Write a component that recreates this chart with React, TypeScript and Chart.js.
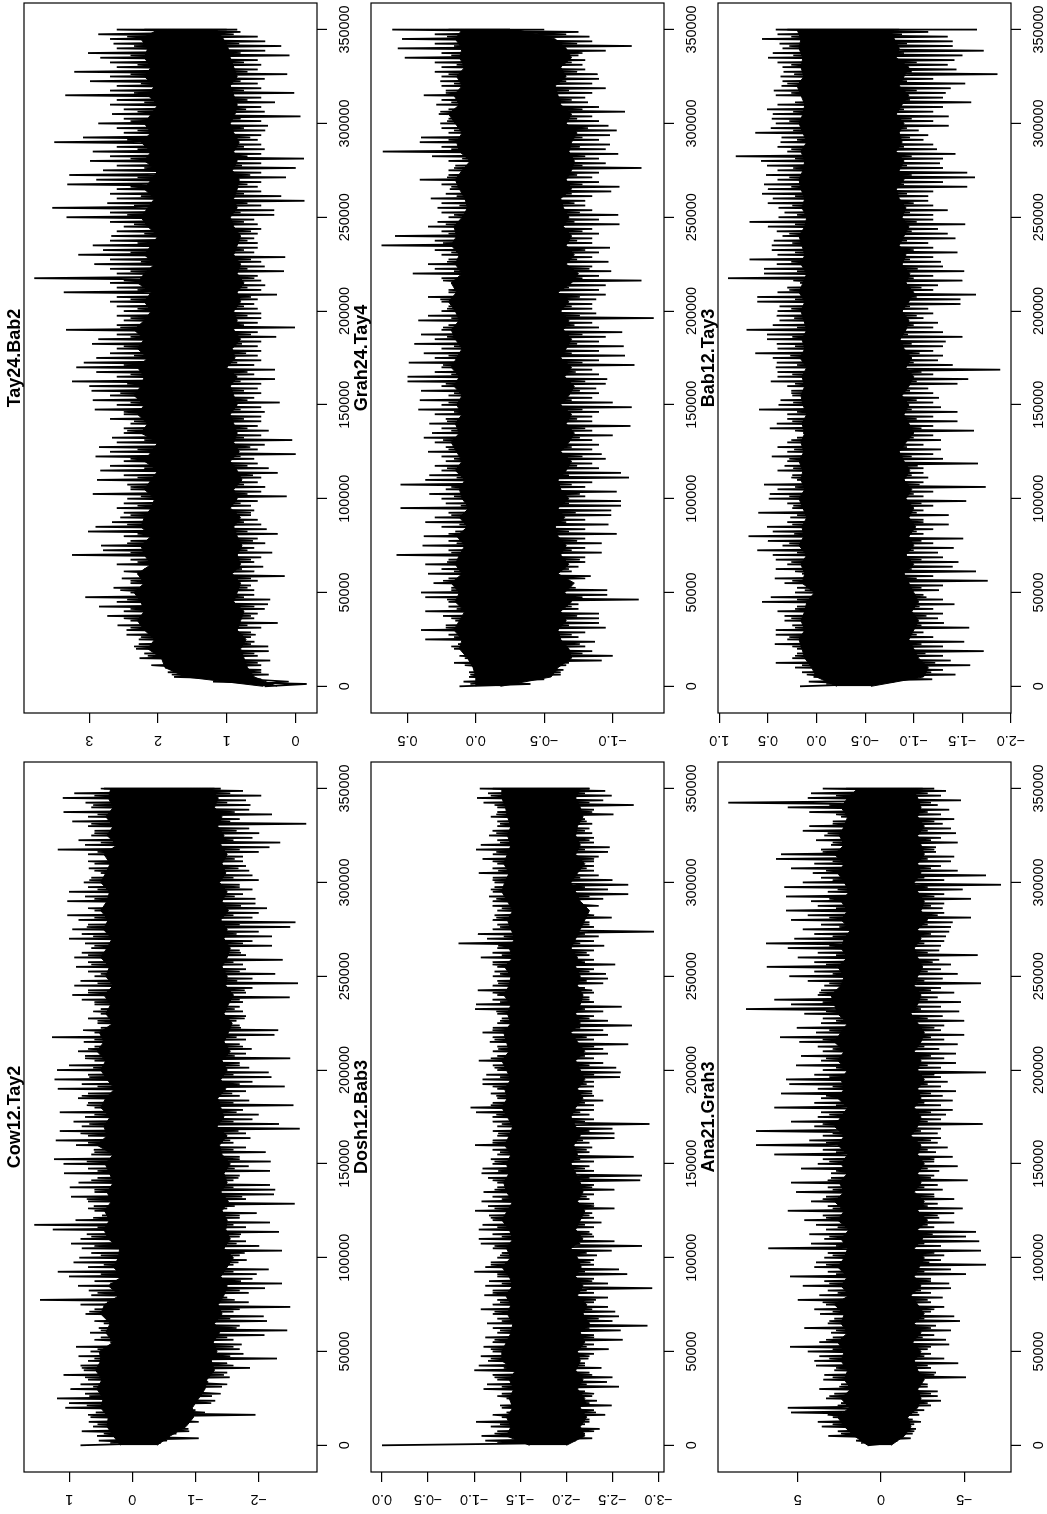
import React, { useEffect, useRef } from "react";
import { Chart, registerables } from "chart.js";

Chart.register(...registerables);

// Trace extremes, one pair per 2500 positions (0 .. 350000).
const sampleStep = 2500;
// Edge of the solid black band and the shorter teeth beyond it, one pair per 5000 positions.
const coreStep = 5000;
const xTicks = [0, 50000, 100000, 150000, 200000, 250000, 300000, 350000];

const cowUpper = [
  .82,.53,.56,.80,.62,.69,.66,.58,1.06,1.00,
  1.19,.75,.98,.82,.70,1.09,.77,.82,.70,.85,
  .66,.89,.35,.5,.67,.53,.45,.40,.74,.60,
  .82,1.46,.65,.69,.86,.6,1.0,1.18,.7,.93,
  .84,.65,.8,.97,.82,.72,1.26,1.55,.9,.48,
  .6,.61,.7,.97,.6,.99,.85,.55,1.08,.7,
  1.09,1.24,.65,.61,.89,1.21,.7,1.15,.8,.93,
  .75,1.15,.6,.7,.86,.7,1.18,.8,1.23,.7,
  1.19,1.0,.6,.75,.86,.6,.77,1.27,.6,.5,
  .55,.7,.5,.5,.6,.8,.95,.7,.92,.82,
  .6,.7,.89,.7,.92,.8,.65,.75,1.0,.8,
  .95,.7,.85,1.03,.6,.35,1.03,.75,1.0,.7,
  .77,.65,.5,.69,.6,.4,.7,1.18,.75,.85,
  .65,.6,.7,.95,.7,1.09,.65,.74,1.1,.92,
  .45];
const cowLower = [
  -.45,-1.05,-.7,-.89,-.85,-.9,-1.95,-1.0,-.95,-1.31,
  -1.26,-1.1,-1.42,-1.2,-1.54,-1.5,-1.86,-1.5,-2.29,-1.76,
  -1.7,-1.73,-1.6,-2.09,-2.45,-1.7,-2.13,-2.08,-1.6,-2.5,
  -1.84,-1.5,-1.84,-2.1,-2.37,-1.9,-1.97,-2.16,-1.6,-1.81,
  -1.7,-2.37,-2.01,-1.8,-1.7,-2.32,-1.8,-2.18,-1.7,-1.97,
  -1.5,-2.57,-1.8,-2.24,-2.26,-2.18,-1.6,-1.7,-2.18,-1.84,
  -2.19,-1.7,-2.11,-1.8,-1.6,-1.87,-1.8,-2.65,-2.32,-1.9,
  -2.0,-1.75,-2.55,-1.85,-1.7,-1.8,-2.41,-1.9,-2.2,-2.16,
  -1.85,-1.7,-2.5,-1.8,-1.89,-1.7,-1.8,-2.25,-2.31,-1.7,
  -1.65,-1.8,-1.75,-1.7,-1.75,-2.49,-1.8,-1.9,-2.62,-1.9,
  -2.26,-1.8,-1.75,-2.38,-1.8,-1.7,-2.21,-1.9,-2.21,-2.0,
  -2.5,-2.58,-1.9,-2.0,-2.13,-1.95,-1.95,-1.75,-1.9,-1.7,
  -2.0,-1.9,-1.85,-1.8,-1.75,-1.75,-2.0,-2.17,-2.34,-1.9,
  -2.01,-1.85,-2.75,-1.7,-2.21,-1.85,-1.87,-1.8,-2.04,-1.75,
  -1.4];
const cowCoreUpper = [
  .19,.3,.4,.38,.5,.46,.56,.48,.58,.5,
  .52,.3,.42,.35,.5,.44,.2,.38,.16,.3,
  .22,.2,.38,.45,.36,.44,.33,.4,.3,.36,
  .43,.3,.56,.4,.45,.35,.5,.42,.28,.4,
  .5,.42,.56,.45,.52,.3,.42,.34,.45,.3,
  .42,.36,.5,.4,.32,.46,.38,.5,.4,.36,
  .5,.42,.35,.45,.24,.4,.3,.42,.3,.38,
  .34];
const cowCoreLower = [
  -.39,-.6,-.85,-.97,-.95,-1.05,-1.15,-1.18,-1.3,-1.25,
  -1.34,-1.28,-1.38,-1.3,-1.42,-1.36,-1.45,-1.5,-1.4,-1.5,
  -1.6,-1.45,-1.55,-1.48,-1.5,-1.42,-1.52,-1.4,-1.5,-1.45,
  -1.55,-1.42,-1.38,-1.5,-1.34,-1.45,-1.4,-1.35,-1.48,-1.4,
  -1.5,-1.42,-1.55,-1.45,-1.52,-1.58,-1.45,-1.52,-1.6,-1.48,
  -1.5,-1.42,-1.5,-1.55,-1.45,-1.5,-1.4,-1.52,-1.42,-1.5,
  -1.38,-1.48,-1.42,-1.5,-1.4,-1.45,-1.35,-1.42,-1.3,-1.36,
  -1.25];
const cowMidUpper = [
  .35,.45,.55,.7,.72,.68,.62,.75,.8,.6,
  .55,.6,.5,.6,.68,.4,.55,.35,.5,.45,
  .5,.6,.65,.55,.62,.7,.72,.6,.65,.55,
  .72,.6,.7,.82,.68,.6,.72,.8,.55,.68,
  .62,.75,.7,.6,.78,.55,.62,.6,.7,.55,
  .5,.65,.7,.6,.62,.72,.6,.7,.6,.55,
  .68,.6,.7,.55,.5,.6,.65,.55,.62,.6,.5];
const cowMidLower = [
  -.55,-.9,-1.05,-1.15,-1.25,-1.4,-1.5,-1.45,-1.6,-1.55,
  -1.6,-1.5,-1.65,-1.55,-1.7,-1.62,-1.7,-1.72,-1.6,-1.68,
  -1.78,-1.65,-1.72,-1.6,-1.7,-1.62,-1.74,-1.6,-1.68,-1.62,
  -1.7,-1.6,-1.55,-1.68,-1.6,-1.65,-1.6,-1.58,-1.7,-1.6,
  -1.7,-1.62,-1.75,-1.65,-1.72,-1.78,-1.62,-1.7,-1.78,-1.66,
  -1.7,-1.6,-1.72,-1.75,-1.65,-1.7,-1.6,-1.72,-1.62,-1.7,
  -1.6,-1.68,-1.62,-1.7,-1.6,-1.65,-1.55,-1.62,-1.5,-1.55,-1.3];
const cowYTicks = [-2, -1, 0, 1];

const doshUpper = [
  0,-1.12,-1.08,-1.25,-1.18,-1.02,-1.3,-1.35,-1.3,-1.4,
  -1.35,-1.3,-1.1,-1.14,-1.25,-1.2,-1.0,-1.05,-1.15,-1.07,
  -1.2,-1.1,-1.2,-1.12,-1.25,-1.2,-1.14,-1.25,-1.2,-1.07,
  -1.2,-1.25,-1.11,-1.2,-1.12,-1.16,-1.25,-1.0,-1.12,-1.18,
  -1.25,-1.3,-1.2,-1.07,-1.05,-1.2,-1.05,-1.09,-1.2,-1.16,
  -1.01,-1.15,-1.08,-1.2,-1.1,-1.25,-1.25,-1.15,-1.08,-1.09,
  -1.2,-1.18,-1.25,-1.2,-1.01,-1.2,-1.25,-1.2,-1.25,-1.2,
  -1.2,-1.02,-.96,-1.2,-1.25,-1.18,-1.25,-1.09,-1.09,-1.13,
  -1.25,-1.2,-1.05,-1.25,-1.2,-1.25,-1.17,-1.2,-1.09,-1.2,
  -1.25,-1.3,-1.25,-1.01,-1.02,-1.2,-1.25,-1.04,-1.2,-1.25,
  -1.2,-1.22,-1.25,-1.2,-1.07,-1.2,-1.25,-.83,-1.14,-1.04,
  -1.2,-1.25,-1.2,-1.22,-1.25,-1.2,-1.2,-1.16,-1.2,-1.22,
  -1.22,-1.2,-1.05,-1.2,-1.25,-1.09,-1.2,-1.02,-1.07,-1.25,
  -1.16,-1.2,-1.25,-1.25,-1.18,-1.25,-1.25,-1.1,-1.03,-1.15,
  -1.06];
const doshLower = [
  -2.0,-2.28,-2.2,-2.36,-2.2,-2.25,-2.42,-2.3,-2.49,-2.33,
  -2.28,-2.2,-2.57,-2.44,-2.5,-2.25,-2.38,-2.2,-2.24,-2.3,
  -2.46,-2.3,-2.61,-2.3,-2.59,-2.88,-2.5,-2.57,-2.53,-2.45,
  -2.3,-2.45,-2.3,-2.93,-2.45,-2.3,-2.66,-2.57,-2.3,-2.3,
  -2.33,-2.49,-2.82,-2.52,-2.3,-2.25,-2.3,-2.38,-2.3,-2.28,
  -2.52,-2.3,-2.25,-2.3,-2.52,-2.3,-2.8,-2.82,-2.3,-2.25,
  -2.3,-2.73,-2.25,-2.28,-2.25,-2.52,-2.52,-2.5,-2.9,-2.3,
  -2.25,-2.3,-2.3,-2.4,-2.3,-2.28,-2.3,-2.3,-2.58,-2.59,
  -2.54,-2.4,-2.3,-2.45,-2.4,-2.67,-2.3,-2.45,-2.4,-2.71,
  -2.45,-2.3,-2.4,-2.6,-2.3,-2.25,-2.3,-2.2,-2.4,-2.45,
  -2.43,-2.3,-2.53,-2.3,-2.25,-2.3,-2.41,-2.3,-2.35,-2.95,
  -2.3,-2.25,-2.49,-2.1,-2.15,-2.1,-2.4,-2.67,-2.45,-2.67,
  -2.5,-2.35,-2.3,-2.3,-2.3,-2.35,-2.45,-2.47,-2.3,-2.3,
  -2.28,-2.25,-2.28,-2.2,-2.51,-2.3,-2.73,-2.4,-2.49,-2.42,
  -2.25];
const doshCoreUpper = [
  -1.6,-1.35,-1.4,-1.35,-1.42,-1.38,-1.43,-1.38,-1.45,-1.3,
  -1.3,-1.35,-1.4,-1.42,-1.36,-1.4,-1.34,-1.42,-1.38,-1.3,
  -1.4,-1.35,-1.42,-1.38,-1.3,-1.36,-1.42,-1.35,-1.32,-1.38,
  -1.35,-1.4,-1.33,-1.38,-1.42,-1.36,-1.3,-1.36,-1.33,-1.4,
  -1.35,-1.3,-1.38,-1.35,-1.32,-1.4,-1.36,-1.4,-1.32,-1.38,
  -1.4,-1.33,-1.42,-1.38,-1.44,-1.4,-1.36,-1.42,-1.36,-1.3,
  -1.33,-1.38,-1.32,-1.36,-1.4,-1.36,-1.4,-1.36,-1.34,-1.3,
  -1.3];
const doshCoreLower = [
  -2.0,-2.2,-2.15,-2.22,-2.15,-2.2,-2.12,-2.18,-2.1,-2.15,
  -2.12,-2.2,-2.15,-2.25,-2.18,-2.22,-2.12,-2.18,-2.1,-2.16,
  -2.12,-2.05,-2.18,-2.1,-2.15,-2.2,-2.12,-2.18,-2.15,-2.1,
  -2.05,-2.12,-2.08,-2.15,-2.1,-2.05,-2.1,-2.18,-2.12,-2.2,
  -2.15,-2.1,-2.2,-2.12,-2.05,-2.15,-2.1,-2.15,-2.18,-2.12,
  -2.15,-2.1,-2.12,-2.05,-2.1,-2.15,-2.2,-2.25,-2.15,-2.1,
  -2.05,-2.12,-2.2,-2.1,-2.15,-2.1,-2.12,-2.18,-2.15,-2.1,
  -2.15];
const doshMidUpper = [
  -1.25,-1.22,-1.28,-1.2,-1.28,-1.25,-1.3,-1.22,-1.32,-1.18,
  -1.18,-1.22,-1.28,-1.3,-1.22,-1.28,-1.2,-1.3,-1.25,-1.18,
  -1.28,-1.22,-1.3,-1.25,-1.18,-1.22,-1.3,-1.22,-1.2,-1.26,
  -1.22,-1.28,-1.2,-1.26,-1.3,-1.24,-1.18,-1.24,-1.2,-1.28,
  -1.22,-1.18,-1.26,-1.22,-1.2,-1.28,-1.24,-1.28,-1.2,-1.26,
  -1.28,-1.2,-1.3,-1.26,-1.32,-1.28,-1.24,-1.3,-1.24,-1.18,
  -1.2,-1.26,-1.2,-1.24,-1.28,-1.24,-1.28,-1.24,-1.22,-1.18,-1.2];
const doshMidLower = [
  -2.1,-2.3,-2.25,-2.32,-2.25,-2.3,-2.22,-2.28,-2.2,-2.25,
  -2.22,-2.3,-2.25,-2.35,-2.28,-2.32,-2.22,-2.28,-2.2,-2.26,
  -2.22,-2.15,-2.28,-2.2,-2.25,-2.3,-2.22,-2.28,-2.25,-2.2,
  -2.15,-2.22,-2.18,-2.25,-2.2,-2.15,-2.2,-2.28,-2.22,-2.3,
  -2.25,-2.2,-2.3,-2.22,-2.15,-2.25,-2.2,-2.25,-2.28,-2.22,
  -2.25,-2.2,-2.22,-2.15,-2.2,-2.25,-2.3,-2.35,-2.25,-2.2,
  -2.15,-2.22,-2.3,-2.2,-2.25,-2.2,-2.22,-2.28,-2.25,-2.2,-2.25];
const doshYTicks = [-3, -2.5, -2, -1.5, -1, -0.5, 0];

const anaUpper = [
  .8,1.5,3.16,2.6,3.56,3.8,2.9,5.4,5.6,2.4,
  3.3,2.8,3.7,2.4,3.46,3.4,2.8,3.9,4.0,3.7,
  4.4,5.46,3.7,2.9,3.0,4.6,3.2,2.8,3.66,4.0,
  3.3,5.0,3.7,3.2,4.7,3.4,5.46,3.2,4.0,3.9,
  3.4,3.2,6.76,4.2,3.4,4.3,3.3,3.9,4.6,3.5,
  5.6,3.2,4.2,3.3,5.1,3.2,5.4,3.0,3.0,4.8,
  3.8,3.5,6.4,3.5,7.5,4.3,3.5,7.5,4.0,5.4,
  3.8,3.6,6.4,4.0,3.6,6.0,3.8,5.5,5.7,4.0,
  3.5,5.1,3.6,4.8,3.5,3.8,4.9,6.06,3.9,5.06,
  3.6,3.5,4.6,8.1,5.4,6.4,3.8,3.6,3.4,4.4,
  5.5,4.0,6.86,4.0,5.0,3.8,5.6,6.9,5.2,4.0,
  4.7,3.6,5.4,4.4,5.7,3.8,4.2,5.7,3.2,5.8,
  4.7,3.6,4.1,5.4,4.0,6.3,6.0,3.6,3.0,3.9,
  3.4,4.7,4.3,2.9,2.4,4.3,5.6,9.16,4.4,4.2,
  3.5];
const anaLower = [
  -.6,-1.78,-1.9,-2.1,-2.0,-1.9,-2.3,-2.6,-3.0,-3.6,
  -3.4,-3.4,-2.8,-2.4,-5.1,-3.3,-3.0,-4.64,-3.8,-3.0,
  -2.8,-4.1,-3.9,-3.2,-4.2,-3.3,-4.74,-4.4,-3.0,-3.8,
  -3.0,-3.7,-3.0,-4.2,-4.1,-3.0,-5.1,-4.2,-6.3,-3.6,
  -3.8,-6.0,-3.6,-5.9,-5.1,-5.7,-3.2,-4.4,-3.5,-4.4,
  -4.9,-3.4,-4.4,-3.2,-3.7,-3.4,-5.2,-3.2,-3.5,-4.6,
  -3.2,-4.3,-3.3,-4.0,-3.4,-3.6,-3.4,-3.6,-6.1,-3.6,
  -3.9,-4.3,-3.6,-4.3,-3.7,-4.5,-3.6,-4.0,-3.6,-6.3,
  -3.6,-4.5,-3.8,-4.5,-3.5,-4.6,-3.8,-5.0,-3.6,-3.8,
  -5.0,-3.7,-4.7,-3.6,-4.8,-3.4,-4.4,-3.6,-6.0,-3.7,
  -4.6,-3.6,-4.2,-3.5,-5.8,-3.5,-3.6,-3.8,-3.9,-4.1,
  -4.2,-4.3,-5.4,-3.8,-3.7,-3.8,-5.4,-3.8,-4.9,-7.2,
  -3.8,-6.3,-4.6,-3.6,-4.2,-4.4,-3.3,-3.3,-4.6,-3.6,
  -4.5,-4.2,-3.7,-4.4,-3.6,-4.1,-3.4,-4.8,-3.6,-3.9,
  -3.2];
const anaCoreUpper = [
  .8,1.6,2.2,2.6,1.9,2.4,1.8,2.2,2.0,2.4,
  2.2,2.6,2.0,2.4,2.2,2.8,1.9,2.4,2.0,2.6,
  2.2,2.0,2.4,1.9,2.6,2.2,2.8,2.2,2.5,2.0,
  2.4,2.0,2.6,2.2,2.8,2.4,2.0,2.6,2.2,2.4,
  2.0,2.6,2.2,2.8,2.4,2.0,2.6,2.8,3.0,2.4,
  2.2,2.6,2.0,2.4,2.2,1.8,2.4,2.0,2.4,1.9,
  2.2,2.6,2.2,2.8,2.2,2.5,2.2,2.0,2.4,2.0,
  1.4];
const anaCoreLower = [
  -.6,-1.4,-1.8,-1.6,-2.2,-2.4,-2.2,-2.6,-2.2,-2.0,
  -2.4,-1.9,-2.4,-2.0,-2.6,-2.2,-1.8,-2.4,-2.0,-2.3,
  -2.6,-2.0,-2.5,-2.2,-2.8,-2.2,-2.6,-2.0,-2.4,-2.2,
  -2.6,-2.2,-2.4,-1.8,-2.2,-2.4,-2.0,-2.4,-2.2,-2.6,
  -2.2,-2.4,-2.0,-2.4,-2.6,-2.2,-1.8,-2.2,-2.4,-2.0,
  -2.2,-2.5,-2.2,-2.0,-2.4,-2.2,-2.8,-2.4,-2.6,-2.2,
  -2.0,-2.4,-2.2,-2.6,-2.4,-2.2,-2.6,-2.2,-2.4,-2.2,
  -1.9];
const anaMidUpper = [
  1.2,2.4,2.9,3.2,2.6,3.1,2.5,2.9,2.7,3.1,
  2.9,3.3,2.7,3.1,2.9,3.5,2.6,3.1,2.7,3.3,
  2.9,2.7,3.1,2.6,3.3,2.9,3.5,2.9,3.2,2.7,
  3.1,2.7,3.3,2.9,3.5,3.1,2.7,3.3,2.9,3.1,
  2.7,3.3,2.9,3.5,3.1,2.7,3.3,3.5,3.7,3.1,
  2.9,3.3,2.7,3.1,2.9,2.5,3.1,2.7,3.1,2.6,
  2.9,3.3,2.9,3.5,2.9,3.2,2.9,2.7,3.1,2.7,2.1];
const anaMidLower = [
  -1.0,-2.0,-2.4,-2.2,-2.8,-3.0,-2.8,-3.2,-2.8,-2.6,
  -3.0,-2.5,-3.0,-2.6,-3.2,-2.8,-2.4,-3.0,-2.6,-2.9,
  -3.2,-2.6,-3.1,-2.8,-3.4,-2.8,-3.2,-2.6,-3.0,-2.8,
  -3.2,-2.8,-3.0,-2.4,-2.8,-3.0,-2.6,-3.0,-2.8,-3.2,
  -2.8,-3.0,-2.6,-3.0,-3.2,-2.8,-2.4,-2.8,-3.0,-2.6,
  -2.8,-3.1,-2.8,-2.6,-3.0,-2.8,-3.4,-3.0,-3.2,-2.8,
  -2.6,-3.0,-2.8,-3.2,-3.0,-2.8,-3.2,-2.8,-3.0,-2.8,-2.5];
const anaYTicks = [-5, 0, 5];

const tayUpper = [
  .45,1.2,1.77,1.86,1.9,1.9,2.27,2.2,2.32,2.28,
  2.28,2.46,2.46,2.59,2.4,2.74,2.5,2.86,2.6,3.06,
  2.4,2.65,2.4,2.53,2.3,2.2,2.6,2.4,3.25,2.8,
  2.83,2.4,2.5,3.02,2.91,2.67,2.55,2.5,2.6,2.5,
  2.45,2.95,2.4,2.45,2.89,2.5,2.84,2.7,2.5,2.91,
  2.7,2.86,2.6,2.67,2.5,2.5,2.4,2.7,2.5,2.92,
  2.6,2.95,2.7,2.97,3.0,3.25,2.6,2.9,3.19,3.08,
  2.9,2.7,2.6,2.96,2.87,2.6,3.34,2.6,2.5,2.6,
  2.5,2.6,2.7,2.6,3.37,2.6,2.7,3.8,2.6,2.7,
  2.93,2.7,3.16,2.8,2.95,2.7,2.68,2.6,2.5,2.7,
  3.33,2.7,3.54,2.74,2.6,2.7,2.6,3.32,2.9,3.29,
  2.8,2.6,2.99,2.7,2.95,2.6,3.51,3.09,2.5,2.6,
  2.87,2.5,2.67,2.5,2.7,2.6,3.35,2.7,2.6,2.99,
  2.7,3.22,2.6,2.7,2.84,3.02,2.6,2.65,2.7,2.87,
  2.6];
const tayLower = [
  -.16,.5,.39,.5,.5,.37,.55,.39,.4,.6,
  .65,.65,.5,.26,.6,.55,.45,.4,.37,.6,
  .6,.65,.55,.16,.6,.47,.6,.5,.34,.6,
  .44,.55,.26,.42,.5,.55,.65,.6,.65,.55,
  .13,.5,.44,.55,.5,.26,.39,.55,.6,0,
  .55,.45,.05,.5,.39,.55,.5,.5,.45,.5,
  .23,.6,.5,.55,.5,.3,.6,.3,.6,.5,
  .55,.5,.55,.5,.28,.55,.01,.55,.5,.5,
  .55,.6,.55,.27,.5,.44,.5,.55,.17,.45,
  .5,.15,.6,.55,.55,.6,.55,.5,.55,.6,
  .31,.31,.5,-.13,.21,.5,.55,.5,.14,.5,
  0,.5,-.12,.5,.45,.5,.55,.5,.44,.4,
  .5,-.07,.45,.5,.3,.5,.02,.5,.55,.45,
  .12,.55,.5,.55,.09,.44,.21,.44,.55,.8,
  .85];
const tayCoreUpper = [
  .47,1.6,1.9,1.95,2.15,2.05,2.2,2.3,2.2,2.25,
  2.35,2.2,2.3,2.1,2.2,2.25,2.1,2.25,2.2,2.1,
  2.05,2.2,2.1,2.0,2.2,2.1,2.0,2.25,2.15,2.3,
  2.2,2.35,2.25,2.2,2.3,2.15,2.3,2.2,2.35,2.2,
  2.1,2.2,2.1,2.3,2.2,2.05,2.2,2.1,2.0,2.15,
  2.25,2.15,2.05,2.2,2.1,2.0,2.2,2.1,2.25,2.1,
  2.2,2.1,2.0,2.15,2.05,2.2,2.1,2.2,2.15,2.25,
  2.0];
const tayCoreLower = [
  .27,.6,.7,.75,.8,.72,.85,.8,.75,.9,
  .85,.8,.92,.8,.85,.78,.85,.9,.8,.95,
  .85,.9,.78,.85,.95,.82,.9,.85,.9,.95,
  .85,.9,.95,.85,1.0,.88,.92,.8,.9,.85,
  .9,.8,.85,.75,.85,.8,.9,.85,.8,.9,
  .95,.85,.9,.85,.82,.92,.85,.9,.82,.9,
  .95,.88,.85,.9,.95,.85,.9,.95,.98,1.05,
  1.15];
const tayMidUpper = [
  .6,1.8,2.1,2.15,2.35,2.25,2.4,2.5,2.4,2.45,
  2.55,2.4,2.5,2.3,2.4,2.45,2.3,2.45,2.4,2.3,
  2.25,2.4,2.3,2.2,2.4,2.3,2.2,2.45,2.35,2.5,
  2.4,2.55,2.45,2.4,2.5,2.35,2.5,2.4,2.55,2.4,
  2.3,2.4,2.3,2.5,2.4,2.25,2.4,2.3,2.2,2.35,
  2.45,2.35,2.25,2.4,2.3,2.2,2.4,2.3,2.45,2.3,
  2.4,2.3,2.2,2.35,2.25,2.4,2.3,2.4,2.35,2.45,2.2];
const tayMidLower = [
  .1,.5,.55,.6,.65,.58,.7,.65,.6,.75,
  .7,.65,.78,.65,.7,.62,.7,.75,.65,.8,
  .7,.75,.62,.7,.8,.66,.75,.7,.75,.8,
  .7,.75,.8,.7,.85,.72,.78,.65,.75,.7,
  .75,.65,.7,.6,.7,.65,.75,.7,.65,.75,
  .8,.7,.75,.7,.66,.78,.7,.75,.66,.75,
  .8,.72,.7,.75,.8,.7,.75,.8,.82,.9,1.0];
const tayYTicks = [0, 1, 2, 3];

const grahUpper = [
  .12,.09,.05,.05,.02,.16,.08,.05,.16,.13,
  .37,.2,.4,.22,.15,.24,.37,.2,.2,.37,
  .4,.18,.31,.2,.35,.25,.37,.2,.58,.2,
  .39,.2,.38,.15,.25,.37,.3,.2,.55,.22,
  .25,.34,.22,.55,.37,.34,.25,.3,.22,.25,
  .35,.22,.3,.38,.32,.25,.34,.22,.3,.42,
  .25,.41,.2,.4,.25,.5,.5,.3,.25,.49,
  .3,.38,.25,.45,.3,.4,.25,.2,.42,.35,
  .25,.2,.25,.35,.2,.15,.18,.25,.46,.3,
  .35,.2,.25,.3,.69,.3,.59,.25,.35,.28,
  .2,.25,.28,.25,.33,.22,.19,.25,.41,.2,
  .2,.15,.2,.32,.68,.25,.41,.4,.2,.25,
  .26,.2,.27,.2,.29,.25,.38,.22,.25,.26,
  .25,.3,.25,.3,.52,.25,.57,.3,.54,.3,
  .61];
const grahLower = [
  -.4,-.5,-.62,-.64,-.66,-.92,-1.0,-.85,-.8,-.87,
  -.75,-.8,-.95,-.9,-.9,-.9,-.75,-.75,-1.19,-.96,
  -.96,-.7,-.65,-.84,-.7,-.75,-.8,-.8,-.92,-.8,
  -.92,-.8,-1.03,-.8,-.97,-.8,-.99,-.99,-1.06,-1.06,
  -.8,-1.03,-.8,-.85,-1.12,-1.06,-.9,-.85,-.95,-.92,
  -.85,-.9,-.85,-1.0,-.85,-1.13,-.85,-.85,-.9,-1.14,
  -1.0,-.85,-.9,-.88,-.95,-.96,-.9,-.85,-1.16,-.9,
  -1.09,-.9,-1.08,-.9,-.95,-1.07,-.9,-.85,-1.3,-.88,
  -.85,-.85,-.88,-.95,-.9,-.95,-1.21,-.9,-.99,-.85,
  -.97,-.85,-.9,-.98,-.85,-.85,-.9,-.85,-1.05,-.9,
  -1.04,-.85,-.8,-.8,-.85,-.99,-1.05,-.9,-.85,-.9,
  -1.21,-.95,-.9,-1.04,-.95,-.98,-.9,-.98,-1.03,-.97,
  -.9,-.85,-1.09,-.9,-.82,-.8,-.85,-.95,-.85,-.9,
  -.89,-.8,-.78,-.8,-.75,-.95,-1.14,-.85,-.83,-.75,
  -.25];
const grahCoreUpper = [
  0,0,.02,.06,.12,.1,.16,.12,.08,.15,
  .12,.18,.1,.15,.12,.08,.14,.06,.12,.05,
  .1,.12,.08,.15,.1,.14,.18,.12,.15,.1,
  .14,.1,.16,.12,.18,.14,.1,.15,.18,.12,
  .15,.2,.14,.18,.1,.15,.12,.18,.14,.16,
  .1,.06,.08,.12,.15,.1,.04,.12,.14,.1,
  .15,.2,.12,.16,.1,.14,.08,.12,.1,.15,
  .1];
const grahCoreLower = [
  -.18,-.55,-.6,-.7,-.68,-.62,-.6,-.66,-.62,-.7,
  -.65,-.72,-.6,-.68,-.62,-.66,-.6,-.58,-.65,-.6,
  -.68,-.62,-.6,-.66,-.7,-.62,-.68,-.72,-.66,-.7,
  -.62,-.68,-.72,-.65,-.7,-.62,-.66,-.7,-.64,-.68,
  -.62,-.68,-.6,-.7,-.75,-.66,-.72,-.66,-.7,-.64,
  -.68,-.64,-.62,-.7,-.66,-.7,-.72,-.68,-.7,-.74,
  -.66,-.7,-.62,-.6,-.58,-.66,-.62,-.7,-.66,-.58,
  -.3];
const grahMidUpper = [
  .04,.04,.08,.12,.18,.16,.22,.18,.14,.21,
  .18,.24,.16,.21,.18,.14,.2,.12,.18,.11,
  .16,.18,.14,.21,.16,.2,.24,.18,.21,.16,
  .2,.16,.22,.18,.24,.2,.16,.21,.24,.18,
  .21,.26,.2,.24,.16,.21,.18,.24,.2,.22,
  .16,.12,.14,.18,.21,.16,.1,.18,.2,.16,
  .21,.26,.18,.22,.16,.2,.14,.18,.16,.21,.2];
const grahMidLower = [
  -.28,-.62,-.68,-.78,-.76,-.7,-.68,-.74,-.7,-.78,
  -.73,-.8,-.68,-.76,-.7,-.74,-.68,-.66,-.73,-.68,
  -.76,-.7,-.68,-.74,-.78,-.7,-.76,-.8,-.74,-.78,
  -.7,-.76,-.8,-.73,-.78,-.7,-.74,-.78,-.72,-.76,
  -.7,-.76,-.68,-.78,-.83,-.74,-.8,-.74,-.78,-.72,
  -.76,-.72,-.7,-.78,-.74,-.78,-.8,-.76,-.78,-.82,
  -.74,-.78,-.7,-.68,-.66,-.74,-.7,-.78,-.74,-.66,-.5];
const grahYTicks = [-1, -0.5, 0, 0.5];

const babUpper = [
  .17,.08,.03,.15,.22,.42,.25,.2,.2,.43,
  .3,.42,.42,.25,.33,.33,.4,.2,.56,.47,
  .22,.2,.33,.43,.15,.42,.3,.42,.45,.61,
  .35,.5,.7,.45,.51,.3,.27,.6,.25,.3,
  .49,.48,.4,.54,.2,.25,.4,.33,.3,.46,
  .3,.4,.3,.2,.14,.48,.41,.3,.3,.59,
  .39,.37,.25,.26,.3,.47,.4,.4,.42,.41,
  .45,.63,.4,.41,.51,.51,.72,.45,.38,.41,
  .4,.38,.61,.61,.4,.3,.17,.91,.54,.54,
  .41,.69,.4,.46,.46,.44,.35,.41,.5,.69,
  .39,.33,.39,.5,.45,.56,.5,.54,.4,.52,
  .4,.51,.57,.83,.3,.4,.37,.36,.63,.47,
  .42,.46,.45,.51,.4,.13,.42,.44,.36,.35,
  .37,.34,.35,.4,.5,.45,.35,.38,.56,.4,
  .42];
const babLower = [
  -.55,-1.19,-1.43,-1.3,-1.58,-1.38,-1.3,-1.72,-1.3,-1.52,
  -1.2,-1.1,-1.57,-1.31,-1.25,-1.3,-1.2,-1.42,-1.3,-1.1,
  -1.26,-1.3,-1.76,-1.2,-1.64,-1.4,-1.46,-1.3,-1.25,-1.41,
  -1.2,-1.51,-1.1,-1.2,-1.36,-1.1,-1.36,-1.1,-1.2,-1.54,
  -1.1,-1.2,-1.74,-1.1,-1.15,-1.1,-1.1,-1.66,-1.3,-1.2,
  -1.28,-1.1,-1.28,-1.2,-1.62,-1.2,-1.45,-1.2,-1.45,-1.28,
  -1.2,-1.26,-1.2,-1.15,-1.45,-1.56,-1.2,-1.89,-1.4,-1.25,
  -1.3,-1.2,-1.3,-1.33,-1.5,-1.3,-1.2,-1.25,-1.1,-1.2,
  -1.15,-1.48,-1.48,-1.64,-1.2,-1.25,-1.5,-1.2,-1.52,-1.3,
  -1.28,-1.2,-1.45,-1.2,-1.15,-1.43,-1.35,-1.25,-1.53,-1.2,
  -1.2,-1.35,-1.2,-1.15,-1.15,-1.2,-1.55,-1.3,-1.63,-1.55,
  -1.3,-1.27,-1.3,-1.43,-1.24,-1.2,-1.1,-1.15,-1.05,-1.36,
  -1.2,-1.36,-1.2,-1.3,-1.59,-1.3,-1.33,-1.38,-1.53,-1.2,
  -1.86,-1.44,-1.35,-1.42,-1.5,-1.72,-1.4,-1.4,-1.35,-1.15,
  -1.65];
const babCoreUpper = [
  -.21,0,.05,.12,.15,.18,.12,.16,.12,.1,
  .02,.15,.12,.16,.1,.18,.13,.15,.1,.14,
  .18,.12,.16,.14,.18,.13,.16,.12,.15,.1,
  .14,.16,.12,.15,.1,.17,.12,.15,.1,.13,
  .16,.12,.18,.14,.1,.16,.12,.15,.18,.12,
  .1,.15,.12,.16,.18,.14,.12,.16,.1,.14,
  .18,.14,.12,.16,.2,.13,.16,.14,.18,.16,
  .2];
const babCoreLower = [
  -.56,-1.1,-1.15,-1.05,-1.0,-.95,-1.0,-1.05,-.98,-1.05,
  -1.0,-.95,-.9,-1.0,-.92,-1.0,-.95,-1.02,-.95,-1.0,
  -.92,-.98,-.9,-.96,-.9,-.85,-.92,-1.0,-.95,-.9,
  -.95,-.88,-.95,-1.0,-.92,-.98,-.9,-.86,-.92,-.95,
  -.88,-.95,-1.0,-.92,-.96,-.88,-.92,-.85,-.9,-.95,
  -.88,-.92,-.85,-.82,-.9,-.85,-.9,-.82,-.88,-.85,
  -.9,-.82,-.88,-.95,-.85,-.9,-.95,-.82,-.85,-.8,
  -.76];
const babMidUpper = [
  -.1,.1,.15,.22,.25,.28,.22,.26,.22,.2,
  .12,.25,.22,.26,.2,.28,.23,.25,.2,.24,
  .28,.22,.26,.24,.28,.23,.26,.22,.25,.2,
  .24,.26,.22,.25,.2,.27,.22,.25,.2,.23,
  .26,.22,.28,.24,.2,.26,.22,.25,.28,.22,
  .2,.25,.22,.26,.28,.24,.22,.26,.2,.24,
  .28,.24,.22,.26,.3,.23,.26,.24,.28,.26,.3];
const babMidLower = [
  -.8,-1.18,-1.22,-1.12,-1.08,-1.03,-1.08,-1.13,-1.06,-1.13,
  -1.08,-1.03,-.98,-1.08,-1.0,-1.08,-1.03,-1.1,-1.03,-1.08,
  -1.0,-1.06,-.98,-1.04,-.98,-.93,-1.0,-1.08,-1.03,-.98,
  -1.03,-.96,-1.03,-1.08,-1.0,-1.06,-.98,-.94,-1.0,-1.03,
  -.96,-1.03,-1.08,-1.0,-1.04,-.96,-1.0,-.93,-.98,-1.03,
  -.96,-1.0,-.93,-.9,-.98,-.93,-.98,-.9,-.96,-.93,
  -.98,-.9,-.96,-1.03,-.93,-.98,-1.03,-.9,-.93,-.88,-.85];
const babYTicks = [-2, -1.5, -1, -0.5, 0, 0.5, 1];

const panels = [
  { title: "Cow12.Tay2", upper: cowUpper, lower: cowLower, coreUpper: cowCoreUpper, coreLower: cowCoreLower, midUpper: cowMidUpper, midLower: cowMidLower, yTicks: cowYTicks, yMin: -2.922, yMax: 1.714, decimals: 0, left: 0, top: -2, labelPad: 8.8 },
  { title: "Tay24.Bab2", upper: tayUpper, lower: tayLower, coreUpper: tayCoreUpper, coreLower: tayCoreLower, midUpper: tayMidUpper, midLower: tayMidLower, yTicks: tayYTicks, yMin: -0.311, yMax: 3.95, decimals: 0, left: 759, top: -2, labelPad: 13 },
  { title: "Dosh12.Bab3", upper: doshUpper, lower: doshLower, coreUpper: doshCoreUpper, coreLower: doshCoreLower, midUpper: doshMidUpper, midLower: doshMidLower, yTicks: doshYTicks, yMin: -3.058, yMax: 0.119, decimals: 1, left: 0, top: 345, labelPad: 2.8 },
  { title: "Grah24.Tay4", upper: grahUpper, lower: grahLower, coreUpper: grahCoreUpper, coreLower: grahCoreLower, midUpper: grahMidUpper, midLower: grahMidLower, yTicks: grahYTicks, yMin: -1.375, yMax: 0.766, decimals: 1, left: 759, top: 345, labelPad: 2.8 },
  { title: "Ana21.Grah3", upper: anaUpper, lower: anaLower, coreUpper: anaCoreUpper, coreLower: anaCoreLower, midUpper: anaMidUpper, midLower: anaMidLower, yTicks: anaYTicks, yMin: -7.8, yMax: 9.78, decimals: 0, left: 0, top: 692, labelPad: 8.8 },
  { title: "Bab12.Tay3", upper: babUpper, lower: babLower, coreUpper: babCoreUpper, coreLower: babCoreLower, midUpper: babMidUpper, midLower: babMidLower, yTicks: babYTicks, yMin: -2.0, yMax: 1.013, decimals: 1, left: 759, top: 692, labelPad: 2.8 },
];

const FONT = "'Liberation Sans', Arial, sans-serif";
const lastX = xTicks[xTicks.length - 1];

function buildTrace(upper: number[], lower: number[], step: number, upperShift: number, lowerShift: number) {
  const pts: { x: number; y: number }[] = [];
  for (let i = 0; i < upper.length; i++) {
    const x = i * step;
    pts.push({ x: Math.min(x + upperShift, lastX), y: upper[i] });
    pts.push({ x: Math.min(x + lowerShift, lastX), y: lower[i] });
  }
  return pts;
}

const frame = {
  id: "frame",
  afterDatasetsDraw(chart: any) {
    const { ctx, chartArea: a } = chart;
    ctx.save();
    ctx.strokeStyle = "#000";
    ctx.lineWidth = 1.2;
    ctx.strokeRect(a.left, a.top, a.right - a.left, a.bottom - a.top);
    ctx.restore();
  },
};

function dropScalePadding(s: any) {
  s.paddingLeft = 0;
  s.paddingRight = 0;
  s.paddingTop = 0;
  s.paddingBottom = 0;
}

function Panel({ p }: { p: (typeof panels)[number] }) {
  const ref = useRef<HTMLCanvasElement>(null);
  useEffect(() => {
    const line = { borderColor: "#000", pointRadius: 0, tension: 0 };
    const chart = new Chart(ref.current as HTMLCanvasElement, {
      type: "line",
      data: {
        datasets: [
          { ...line, data: p.coreUpper.map((y, i) => ({ x: i * coreStep, y })), borderWidth: 1, fill: "+1", backgroundColor: "#000" },
          { ...line, data: p.coreLower.map((y, i) => ({ x: i * coreStep, y })), borderWidth: 1, fill: false },
          { ...line, data: buildTrace(p.midUpper, p.midLower, coreStep, sampleStep / 2, sampleStep), borderWidth: 1.6, fill: false },
          { ...line, data: buildTrace(p.upper, p.lower, sampleStep, 0, sampleStep / 2), borderWidth: 1.8, fill: false },
        ],
      },
      plugins: [frame],
      options: {
        responsive: false,
        animation: false,
        layout: { padding: { right: 3 }, autoPadding: false },
        plugins: {
          legend: { display: false },
          tooltip: { enabled: false },
          title: {
            display: true,
            text: p.title,
            fullSize: false,
            color: "#000",
            font: { family: FONT, size: 18, weight: "bold", lineHeight: 1 },
            padding: { top: 8, bottom: 0 },
          },
        },
        scales: {
          x: {
            type: "linear",
            min: -14224,
            max: 364170,
            afterFit: (s: any) => { s.height = 36; dropScalePadding(s); },
            afterBuildTicks: (s: any) => { s.ticks = xTicks.map((value) => ({ value })); },
            border: { display: false },
            grid: { drawOnChartArea: false, tickLength: 10, color: "#000", lineWidth: 1.2 },
            ticks: {
              autoSkip: false, maxRotation: 0, minRotation: 0, padding: 9, color: "#000",
              font: { family: FONT, size: 14.4 },
              callback: (v: any) => String(v),
            },
          },
          y: {
            type: "linear",
            min: p.yMin,
            max: p.yMax,
            afterFit: (s: any) => { s.width = 42; dropScalePadding(s); },
            afterBuildTicks: (s: any) => { s.ticks = p.yTicks.map((value) => ({ value })); },
            border: { display: false },
            grid: { drawOnChartArea: false, tickLength: 10, color: "#000", lineWidth: 1.2 },
            ticks: {
              autoSkip: false, minRotation: 90, maxRotation: 90, crossAlign: "center", padding: p.labelPad, color: "#000",
              font: { family: FONT, size: 14.4 },
              callback: (v: any) => Number(v).toFixed(p.decimals).replace("-", "\u2212"),
            },
          },
        },
      },
    } as any);
    return () => chart.destroy();
  }, [p]);
  return (
    <canvas
      ref={ref}
      width={755}
      height={355}
      style={{ position: "absolute", left: p.left, top: p.top, display: "block" }}
    />
  );
}

export default function App() {
  return (
    <div
      style={{
        position: "absolute",
        left: 0,
        top: 0,
        width: 1514,
        height: 1047,
        transformOrigin: "top left",
        transform: "translate(0px, 1514px) rotate(-90deg)",
        background: "#fff",
      }}
    >
      {panels.map((p) => (
        <Panel key={p.title} p={p} />
      ))}
    </div>
  );
}
